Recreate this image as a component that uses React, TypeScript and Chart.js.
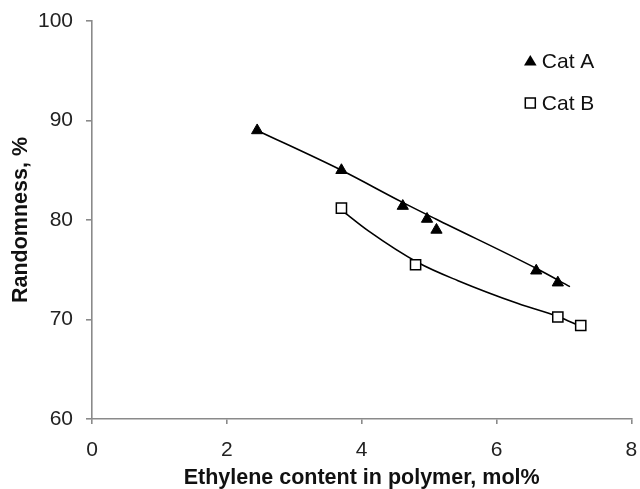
import React, { useEffect, useRef } from "react";
import { Chart, registerables } from "chart.js";

Chart.register(...registerables);

// Measured points
const catAX = [2.45, 3.7, 4.61, 4.97, 5.11, 6.59, 6.91];
const catAY = [89.0, 85.0, 81.4, 80.1, 79.0, 74.9, 73.7];
const catBX = [3.7, 4.8, 6.91, 7.25];
const catBY = [81.2, 75.5, 70.25, 69.4];

// Trend curves
const trendAX = [2.45, 3.7, 4.6, 5.1, 6.6, 7.09];
const trendAY = [89.0, 85.0, 81.8, 80.1, 75.1, 73.3];
const trendBX = [3.7, 4.1, 4.84, 5.43, 6.32, 6.91, 7.25];
const trendBY = [81.0, 78.9, 75.7, 73.9, 71.6, 70.3, 69.3];

const xTicks = [0, 2, 4, 6, 8];
const yTicks = [60, 70, 80, 90, 100];
const seriesNames = ["Cat A", "Cat B"];
const xTitle = "Ethylene content in polymer, mol%";
const yTitle = "Randomness, %";

const FONT = "'Liberation Sans', Arial, sans-serif";
const AXIS = "#8a8a8a";

const zip = (xs: number[], ys: number[]) => xs.map((x, i) => ({ x, y: ys[i] }));

const legendPlugin = {
  id: "customLegend",
  afterDraw(chart: any) {
    const { ctx, chartArea } = chart;
    const mx = chartArea.right - 101;
    const y1 = chartArea.top + 40;
    const y2 = chartArea.top + 82;
    ctx.save();
    ctx.fillStyle = "#000";
    ctx.beginPath();
    ctx.moveTo(mx, y1 - 6);
    ctx.lineTo(mx + 6.3, y1 + 4.5);
    ctx.lineTo(mx - 6.3, y1 + 4.5);
    ctx.closePath();
    ctx.fill();
    ctx.strokeStyle = "#000";
    ctx.lineWidth = 1.5;
    ctx.fillStyle = "#fff";
    ctx.beginPath();
    ctx.rect(mx - 5, y2 - 5, 10, 10);
    ctx.fill();
    ctx.stroke();
    ctx.fillStyle = "#111";
    ctx.font = `21px ${FONT}`;
    ctx.textBaseline = "middle";
    ctx.textAlign = "left";
    ctx.fillText(seriesNames[0], mx + 11.5, y1 + 1);
    ctx.fillText(seriesNames[1], mx + 11.5, y2 + 1);
    ctx.restore();
  },
};

export default function App() {
  const ref = useRef<HTMLCanvasElement | null>(null);
  useEffect(() => {
    if (!ref.current) return;
    const chart = new Chart(ref.current, {
      type: "scatter",
      data: {
        datasets: [
          {
            label: seriesNames[0],
            data: zip(catAX, catAY),
            pointStyle: "triangle",
            pointRadius: 6.5,
            backgroundColor: "#000",
            borderColor: "#000",
            borderWidth: 1,
            order: 0,
          },
          {
            label: seriesNames[1],
            data: zip(catBX, catBY),
            pointStyle: "rect",
            pointRadius: 7.2,
            backgroundColor: "#fff",
            borderColor: "#000",
            borderWidth: 1.5,
            order: 0,
          },
          {
            label: "trendA",
            data: zip(trendAX, trendAY),
            showLine: true,
            pointRadius: 0,
            borderColor: "#000",
            borderWidth: 1.6,
            cubicInterpolationMode: "monotone",
            order: 1,
          },
          {
            label: "trendB",
            data: zip(trendBX, trendBY),
            showLine: true,
            pointRadius: 0,
            borderColor: "#000",
            borderWidth: 1.6,
            cubicInterpolationMode: "monotone",
            order: 1,
          },
        ],
      },
      options: {
        animation: false,
        responsive: false,
        maintainAspectRatio: false,
        layout: { padding: { top: 21, right: 5, bottom: 0, left: 0 } },
        plugins: {
          legend: { display: false },
          tooltip: { enabled: false },
        },
        scales: {
          x: {
            type: "linear",
            min: xTicks[0],
            max: xTicks[xTicks.length - 1],
            afterBuildTicks: (s: any) => {
              s.ticks = xTicks.map((v) => ({ value: v }));
            },
            afterFit: (s: any) => {
              s.height = 70;
              s.paddingLeft = 0;
              s.paddingRight = 0;
            },
            border: { color: AXIS, width: 1.6 },
            grid: { drawOnChartArea: false, color: AXIS, tickLength: 5, lineWidth: 1.6 },
            ticks: { color: "#222", font: { family: FONT, size: 21 }, padding: 14, maxRotation: 0 },
            title: {
              display: true,
              text: xTitle,
              color: "#111",
              font: { family: FONT, size: 21.5, weight: "bold", lineHeight: 1 },
              padding: { top: 0, bottom: 0 },
            },
          },
          y: {
            type: "linear",
            min: yTicks[0],
            max: yTicks[yTicks.length - 1],
            afterBuildTicks: (s: any) => {
              s.ticks = yTicks.map((v) => ({ value: v }));
            },
            afterFit: (s: any) => {
              s.width = 92;
              s.paddingTop = 0;
              s.paddingBottom = 0;
            },
            border: { color: AXIS, width: 1.6 },
            grid: { drawOnChartArea: false, color: AXIS, tickLength: 6, lineWidth: 1.6 },
            ticks: { color: "#222", font: { family: FONT, size: 21 }, padding: 13 },
            title: {
              display: true,
              text: yTitle,
              color: "#111",
              font: { family: FONT, size: 21.5, weight: "bold", lineHeight: 1 },
              padding: { top: 10, bottom: 0 },
            },
          },
        },
      },
      plugins: [legendPlugin],
    } as any);
    return () => chart.destroy();
  }, []);
  return (
    <div style={{ position: "fixed", left: 0, top: 0, width: 640, height: 489, background: "#fff" }}>
      <canvas ref={ref} width={640} height={489} style={{ width: 640, height: 489, display: "block" }} />
    </div>
  );
}
